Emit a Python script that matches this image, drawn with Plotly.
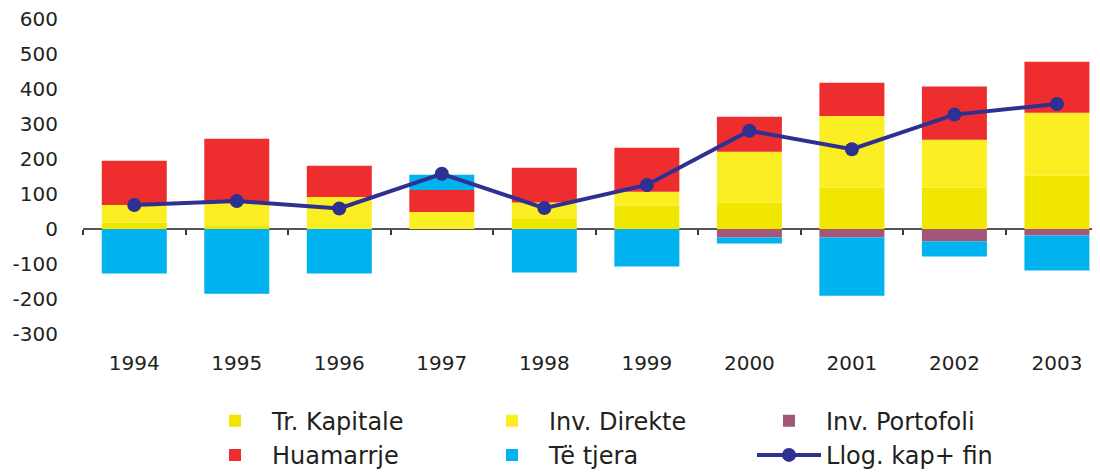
import plotly.graph_objects as go

# Lata
years = ["1994", "1995", "1996", "1997", "1998", "1999", "2000", "2001", "2002", "2003"]

# Składniki rachunku kapitałowego i finansowego
tr_kapitale = [19, 11, 0, 0, 29, 67, 75, 118, 118, 152]
inv_direkte = [50, 68, 92, 49, 47, 40, 146, 205, 137, 180]
inv_portofoli = [0, 0, 0, 0, 0, 0, -24, -24, -35, -18]
huamarrje = [126, 179, 89, 63, 99, 125, 100, 95, 152, 146]
te_tjera = [-127, -185, -127, 43, -124, -107, -17, -166, -43, -100]
llog_kap_fin = [69, 80, 59, 158, 60, 126, 281, 228, 327, 357]

# Oś Y
y_tick_vals = [600, 500, 400, 300, 200, 100, 0, -100, -200, -300]
y_tick_text = ["600", "500", "400", "300", "200", "100", "0", "-100", "-200", "-300"]

FONT = "DejaVu Sans"
TEXT_COLOR = "#231f20"
Y_RANGE = [-351, 620]


def add_bars(fig):
    series = [
        ("Tr. Kapitale", tr_kapitale, "#f0e600"),
        ("Inv. Direkte", inv_direkte, "#fbee23"),
        ("Inv. Portofoli", inv_portofoli, "#a25678"),
        ("Huamarrje", huamarrje, "#ee2d2e"),
        ("Të tjera", te_tjera, "#00b2ee"),
    ]
    for name, values, color in series:
        fig.add_trace(go.Bar(
            x=years,
            y=values,
            name=name,
            marker=dict(color=color, line=dict(width=0)),
        ))


def add_line(fig):
    fig.add_trace(go.Scatter(
        x=years,
        y=llog_kap_fin,
        name="Llog. kap+ fin",
        mode="lines+markers",
        line=dict(color="#2e3192", width=4),
        marker=dict(color="#2e3192", size=14),
    ))


fig = go.Figure()
add_bars(fig)
add_line(fig)

# oś X leży na zerze, etykiety odsunięte na dół wykresu
zero_pos = -Y_RANGE[0] / (Y_RANGE[1] - Y_RANGE[0])

# strona ma 8 px marginesu body, więc figura jest o 8 px mniejsza
fig.update_layout(
    width=1092,
    height=465,
    margin=dict(l=75, r=0, t=4, b=121),
    barmode="relative",
    bargap=0.366,
    plot_bgcolor="white",
    paper_bgcolor="white",
    font=dict(family=FONT, color=TEXT_COLOR, size=20),
    xaxis=dict(
        type="category",
        range=[-0.5, 9.42],
        anchor="free",
        position=zero_pos,
        showgrid=False,
        showline=False,
        ticks="outside",
        tickson="boundaries",
        ticklen=5,
        tickwidth=1.5,
        tickcolor="#3a3a3a",
        ticklabelstandoff=120,
        tickfont=dict(size=20),
        automargin=False,
    ),
    yaxis=dict(
        range=Y_RANGE,
        tickvals=y_tick_vals,
        ticktext=y_tick_text,
        showgrid=False,
        zeroline=True,
        zerolinecolor="#555555",
        zerolinewidth=2,
        ticks="",
        ticklabelstandoff=24,
        ticklabeloverflow="allow",
        tickfont=dict(size=20),
        automargin=False,
    ),
    legend=dict(
        orientation="h",
        xref="container",
        yref="container",
        x=0.174,
        y=0.16,
        xanchor="left",
        yanchor="top",
        entrywidth=198,
        entrywidthmode="pixels",
        itemwidth=64,
        font=dict(size=24, family=FONT, color=TEXT_COLOR),
        bgcolor="rgba(0,0,0,0)",
        traceorder="normal",
    ),
    showlegend=True,
)

fig.write_html("out.html")
